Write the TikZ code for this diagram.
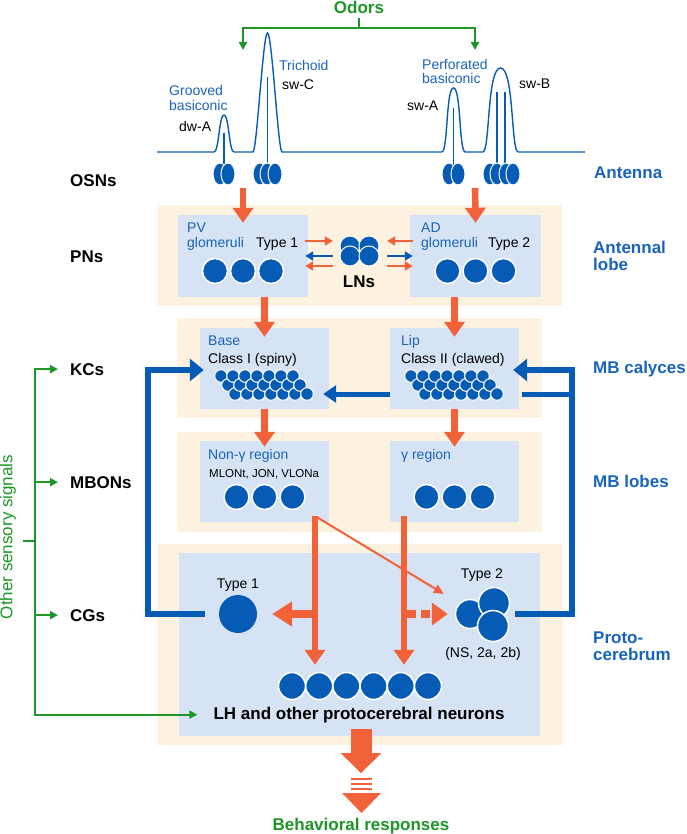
\documentclass[tikz,border=0pt]{standalone}
\usepackage{fontspec}
\setmainfont{Liberation Sans}
\usetikzlibrary{arrows.meta}
\definecolor{bluec}{RGB}{6,92,180}
\definecolor{textblue}{RGB}{24,100,186}
\definecolor{orangec}{RGB}{242,98,58}
\definecolor{greenc}{RGB}{28,150,38}
\definecolor{beigec}{RGB}{253,241,224}
\definecolor{boxc}{RGB}{213,227,245}
\tikzset{
	bandstyle/.style={rectangle,fill=beigec,inner sep=0},
	boxstyle/.style={rectangle,fill=boxc,inner sep=0},
	cellstyle/.style={circle,fill=bluec,draw=white,line width=1.5pt,inner sep=0},
	kcstyle/.style={fill=bluec,draw=white,line width=1pt},
	antstyle/.style={draw=bluec,line width=1.4pt},
	sidestyle/.style={inner sep=0,anchor=base west,font=\fontsize{17}{17}\selectfont\bfseries},
	regionstyle/.style={sidestyle,text=textblue,align=left},
	boldstyle/.style={inner sep=0,anchor=base,font=\fontsize{17}{17}\selectfont\bfseries},
	titlestyle/.style={inner sep=0,anchor=base west,text=textblue,align=left,font=\fontsize{14}{14.5}\selectfont},
	namestyle/.style={inner sep=0,anchor=base west,font=\fontsize{14}{14}\selectfont},
	orangearrow/.style={draw=orangec,line width=6.5pt,-{Triangle[width=20pt,length=15pt]}},
	sidearrow/.style={draw=orangec,line width=8.5pt,-{Triangle[width=24pt,length=20pt]}},
	dasharrow/.style={draw=orangec,line width=8.5pt,dash pattern=on 9pt off 5pt,-{Triangle[width=22pt,length=16pt]}},
	thinarrow/.style={draw=orangec,line width=2pt,-{Triangle[width=9pt,length=10pt]}},
	bigarrow/.style={draw=orangec,line width=21pt,-{Triangle[width=39pt,length=20pt]}},
	lnarrow/.style={line width=2.5pt,-{Triangle[width=9pt,length=8pt]}},
	bluearrow/.style={draw=bluec,line width=6.5pt,-{Triangle[width=22pt,length=14pt]}},
	blueline/.style={draw=bluec,line width=5pt},
	bluethin/.style={draw=bluec,line width=5pt,-{Triangle[width=17pt,length=13pt]}},
	greenline/.style={draw=greenc,line width=2pt},
	greenarrow/.style={greenline,-{Triangle[width=8pt,length=8pt]}}
}

\begin{document}
\begin{tikzpicture}[x=1pt,y=-1pt]
	\useasboundingbox (0,0) rectangle (686,834);
	\node[bandstyle,minimum width=405,minimum height=101] (alband) at (359.5,255.5) {};
	\node[bandstyle,minimum width=365,minimum height=100] (calband) at (359.5,368) {};
	\node[bandstyle,minimum width=365,minimum height=100] (lobband) at (359.5,482) {};
	\node[bandstyle,minimum width=406,minimum height=201] (proband) at (360,644.5) {};
	\node[boxstyle,minimum width=130,minimum height=82] (pv) at (243,256) {};
	\node[boxstyle,minimum width=131,minimum height=82] (ad) at (475.5,256) {};
	\node[boxstyle,minimum width=129,minimum height=81] (base) at (264.5,368.5) {};
	\node[boxstyle,minimum width=129,minimum height=81] (lip) at (454.5,368.5) {};
	\node[boxstyle,minimum width=129,minimum height=81] (nong) at (264.5,481.5) {};
	\node[boxstyle,minimum width=129,minimum height=81] (gam) at (454.5,481.5) {};
	\node[boxstyle,minimum width=361,minimum height=183] (pro) at (359.5,644.5) {};
	\coordinate (osnl) at (243,188);
	\coordinate (osnr) at (475,188);
	\coordinate (odmid) at (359,28);
	\coordinate (odl) at (243,50);
	\coordinate (odr) at (475,50);
	\coordinate (sigbus) at (35,541);
	\coordinate (fbl) at (148,370);
	\coordinate (fbr) at (572,370);
	\coordinate (kcout) at (454.5,394);
	\coordinate (vl) at (315,516);
	\coordinate (vr) at (404,516);

	\draw[antstyle] (157,152) -- (214,152) .. controls (219,152) and (219,115) .. (224,115) .. controls (229,115) and (229,152) .. (234,152) -- (253,152) .. controls (257,150) and (263,33) .. (267.5,33) .. controls (272,33) and (278,150) .. (282,152) -- (442,152) .. controls (448,150) and (446,88) .. (453.5,88) .. controls (461,88) and (459,150) .. (465,152) -- (483,152) .. controls (490,150) and (487,68) .. (500.5,68) .. controls (514,68) and (511,150) .. (518,152) -- (585,152);
	\draw[antstyle] (224,133) -- (224,166);
	\draw[antstyle] (267.5,77) -- (267.5,166);
	\draw[antstyle] (453.5,108) -- (453.5,166);
	\draw[antstyle] (497,92) -- (497,166);
	\draw[antstyle] (505,92) -- (505,166);
	\foreach \x in {220,228,260,267,275,449,458,490,497,506,513}
		\filldraw[kcstyle] (\x,174) ellipse (7pt and 11pt);

	\node[titlestyle] (groovt) at (169,110.5) {Grooved\\basiconic};
	\node[namestyle] (dwa) at (179,132) {dw-A};
	\node[titlestyle] (trit) at (279,71) {Trichoid};
	\node[namestyle] (swc) at (282,90) {sw-C};
	\node[titlestyle] (perft) at (422,84) {Perforated\\basiconic};
	\node[namestyle] (swa) at (407,111) {sw-A};
	\node[namestyle] (swb) at (519,89) {sw-B};
	\node[boldstyle,text=greenc] (odors) at (359,14) {Odors};
	\draw[greenarrow,shorten <=4pt] (odors.south) -- (odmid) -| (odl);
	\draw[greenarrow,shorten <=4pt] (odors.south) -- (odmid) -| (odr);

	\node[sidestyle] (osns) at (70,187) {OSNs};
	\node[sidestyle] (pns) at (70,262) {PNs};
	\node[sidestyle] (kcs) at (70,375) {KCs};
	\node[sidestyle] (mbons) at (70,488) {MBONs};
	\node[sidestyle] (cgs) at (70,621) {CGs};
	\node[regionstyle] (antenna) at (594,179) {Antenna};
	\node[regionstyle] (alobe) at (593,270) {Antennal\\lobe};
	\node[regionstyle] (calyx) at (593,373) {MB calyces};
	\node[regionstyle] (lobes) at (593,487) {MB lobes};
	\node[regionstyle] (proto) at (593,660) {Proto-\\cerebrum};

	\node[titlestyle] (pvt) at (187,247) {PV\\glomeruli};
	\node[namestyle] (pvtype) at (256,247) {Type 1};
	\node[titlestyle] (adt) at (421,247) {AD\\glomeruli};
	\node[namestyle] (adtype) at (488,247) {Type 2};
	\foreach \x in {215,243,271,447.5,475.5,503.5}
		\filldraw[kcstyle,line width=1.5pt] (\x,271) circle (12.5pt);
	\node[inner sep=0,minimum width=40,minimum height=30] (lns) at (359.5,256) {};
	\foreach \x/\y in {350/246,369/246,350/256,369/256}
		\filldraw[kcstyle] (\x,\y) circle (10pt);
	\node[boldstyle] (lnt) at (359,287) {LNs};
	\draw[lnarrow,orangec] ([shift={(-3pt,15pt)}]pv.east) -- ([shift={(-6.5pt,15pt)}]lns.west);
	\draw[lnarrow,bluec] ([shift={(-6.5pt,0pt)}]lns.west) -- ([shift={(-3pt,0pt)}]pv.east);
	\draw[lnarrow,orangec] ([shift={(-6.5pt,-10pt)}]lns.west) -- ([shift={(-3pt,-10pt)}]pv.east);
	\draw[lnarrow,orangec] ([shift={(3pt,15pt)}]ad.west) -- ([shift={(7.5pt,15pt)}]lns.east);
	\draw[lnarrow,bluec] ([shift={(7.5pt,0pt)}]lns.east) -- ([shift={(3pt,0pt)}]ad.west);
	\draw[lnarrow,orangec] ([shift={(7.5pt,-10pt)}]lns.east) -- ([shift={(3pt,-10pt)}]ad.west);

	\node[titlestyle] (baset) at (208,345) {Base};
	\node[namestyle] (basetype) at (208,363) {Class I (spiny)};
	\node[titlestyle] (lipt) at (401,345) {Lip};
	\node[namestyle] (liptype) at (401,363) {Class II (clawed)};
	\foreach \dx in {0,190}
		\foreach \i in {0,...,6} {
			\filldraw[kcstyle] (221+\dx+12*\i,376) circle (6.3pt);
			\filldraw[kcstyle] (228+\dx+12*\i,385) circle (6.3pt);
			\filldraw[kcstyle] (235+\dx+12*\i,394) circle (6.3pt);
		}

	\node[titlestyle] (nongt) at (208,459) {Non-γ region};
	\node[namestyle,font=\fontsize{11.5}{12}\selectfont] (nongn) at (209,477) {MLONt, JON, VLONa};
	\node[titlestyle] (gamt) at (401,459) {γ region};
	\foreach \x in {236.5,264.5,292.5,426.5,454.5,482.5}
		\filldraw[kcstyle,line width=1.5pt] (\x,497) circle (12.5pt);

	\node[fill=bluec,circle,inner sep=0,minimum size=38] (type1) at (238,614) {};
	\node[namestyle,anchor=base] (t1t) at (238,588) {Type 1};
	\node[cellstyle,minimum size=29] (t2l) at (470,614) {};
	\node[cellstyle,minimum size=31] (t2u) at (494,603) {};
	\node[cellstyle,minimum size=31] (t2d) at (493,626) {};
	\node[namestyle,anchor=base] (t2t) at (482,578) {Type 2};
	\node[namestyle,anchor=base] (t2n) at (483,657) {(NS, 2a, 2b)};
	\foreach \i in {1,...,6}
		\node[cellstyle,minimum size=27] (lh\i) at (264.8+27.2*\i,686) {};
	\node[boldstyle] (lh) at (359,719) {LH and other protocerebral neurons};

	\draw[orangearrow,shorten >=-8pt] (osnl) -- (pv.north);
	\draw[orangearrow,shorten >=-8pt] (osnr) -- (ad.north);
	\draw[orangearrow,shorten >=-9pt] (pv.south -| base.north) -- (base.north);
	\draw[orangearrow,shorten >=-9pt] (ad.south -| lip.north) -- (lip.north);
	\draw[orangearrow,shorten >=-6pt] (base.south) -- (nong.north);
	\draw[orangearrow,shorten >=-6pt] (lip.south) -- (gam.north);
	\draw[orangearrow,shorten >=7pt] (vl) -- (vl |- lh2.north);
	\draw[orangearrow,shorten >=7pt] (vr) -- (vr |- lh5.north);
	\draw[sidearrow,shorten >=15pt] (vl |- type1) -- (type1.east);
	\draw[dasharrow,shorten <=3pt,shorten >=7pt] (vr |- type1) -- (t2l.west);
	\draw[thinarrow,shorten <=3pt,shorten >=18pt] (vl) -- (t2l.north west);

	\draw[bluearrow,shorten <=14pt,shorten >=-4pt] (type1.west) -| (fbl) -- (base.west |- fbl);
	\draw[bluearrow,shorten <=4.5pt,shorten >=-6pt] (t2u.east |- type1) -| (fbr) -- (lip.east |- fbr);
	\draw[blueline,shorten <=3pt] (lip.east |- kcout) -- (fbr |- kcout);
	\draw[bluethin,shorten >=-6pt] (lip.west |- kcout) -- (base.east |- kcout);

	\node[font=\fontsize{17}{17}\selectfont,text=greenc,rotate=90,inner sep=0] (signals) at (8,537) {Other sensory signals};
	\draw[greenline,shorten <=7pt] (signals.south |- sigbus) -- (sigbus);
	\draw[greenarrow] (sigbus) |- ([xshift=-12pt]kcs.west);
	\draw[greenarrow] (sigbus) |- ([xshift=-12pt]mbons.west);
	\draw[greenarrow] (sigbus) |- ([xshift=-12pt]cgs.west);
	\draw[greenarrow] (sigbus) |- ([xshift=-16pt]lh.west);

	\node[boldstyle,text=greenc] (resp) at (361,830) {Behavioral responses};
	\draw[bigarrow,shorten <=-7pt] (pro.south -| resp.north) -- ++(0,37);
	\foreach \y in {779,784,789}
		\draw[orangec,line width=2.6pt] (351,\y) -- (372,\y);
	\fill[orangec] (342,793) -- (381,793) -- (361.5,813) -- cycle;
\end{tikzpicture}
\end{document}
